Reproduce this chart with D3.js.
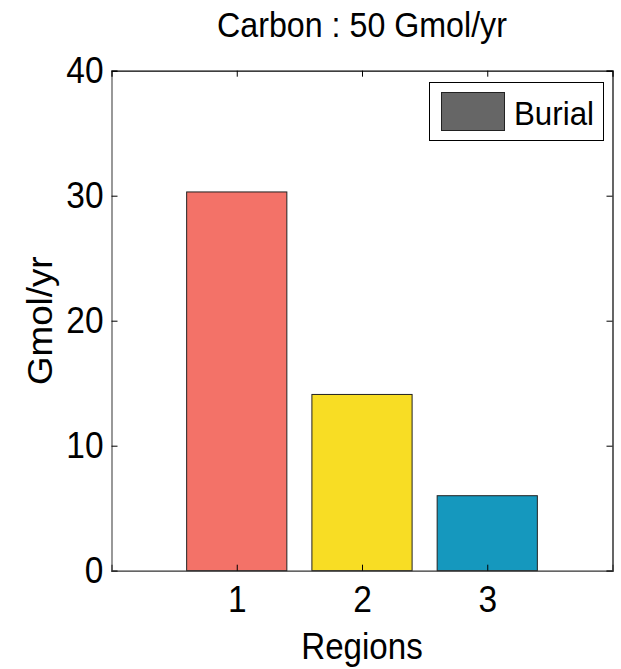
<!DOCTYPE html>
<html>
<head>
<meta charset="utf-8">
<script src="https://cdn.jsdelivr.net/npm/d3@7"></script>
<style>
  html, body { margin: 0; padding: 0; background: #fff; }
  svg { display: block; font-family: "Liberation Sans", Arial, sans-serif; }
</style>
</head>
<body>
<svg id="chart" width="621" height="669"></svg>
<script>
// Carbon burial per region
const regions = [1, 2, 3];
const burial = [30.3, 14.1, 6.0];
const barColors = ["#f37268", "#f8dd24", "#1598be"];
const yTicks = [0, 10, 20, 30, 40];
const chartTitle = "Carbon : 50 Gmol/yr";
const xLabel = "Regions";
const yLabel = "Gmol/yr";
const seriesName = "Burial";

const svg = d3.select("#chart");
const margin = { left: 111.5, top: 70.7, right: 8.5, bottom: 98.3 };
const W = 621, H = 669;
const innerW = W - margin.left - margin.right;
const innerH = H - margin.top - margin.bottom;

const x = d3.scaleLinear().domain([0, 4]).range([0, innerW]);
const y = d3.scaleLinear().domain([0, 40]).range([innerH, 0]);
const barW = 0.8;

// narrow the glyphs horizontally, keeping the anchor
function condense(sel, factor) {
  sel.each(function () {
    const w = this.getComputedTextLength();
    d3.select(this).attr("textLength", w * factor).attr("lengthAdjust", "spacingAndGlyphs");
  });
}

const g = svg.append("g").attr("transform", `translate(${margin.left},${margin.top})`);

// bars
g.selectAll("rect.bar")
  .data(regions.map((r, i) => ({ r, v: burial[i], c: barColors[i] })))
  .join("rect")
  .attr("class", "bar")
  .attr("x", d => x(d.r - barW / 2))
  .attr("width", d => x(d.r + barW / 2) - x(d.r - barW / 2))
  .attr("y", d => y(d.v))
  .attr("height", d => y(0) - y(d.v))
  .attr("fill", d => d.c)
  .attr("stroke", "#222")
  .attr("stroke-width", 1);

// axes with inward ticks on all four sides
const tickLen = 6;
const axLeft = g.append("g")
  .call(d3.axisLeft(y).tickValues(yTicks).tickFormat(d3.format("d")).tickSize(-tickLen).tickPadding(8));
const axRight = g.append("g").attr("transform", `translate(${innerW},0)`)
  .call(d3.axisRight(y).tickValues(yTicks).tickSize(-tickLen).tickFormat(""));
const axBottom = g.append("g").attr("transform", `translate(0,${innerH})`)
  .call(d3.axisBottom(x).tickValues(regions).tickFormat(d3.format("d")).tickSize(-tickLen).tickPadding(16));
const axTop = g.append("g")
  .call(d3.axisTop(x).tickValues(regions).tickSize(-tickLen).tickFormat(""));

[axLeft, axRight, axBottom, axTop].forEach(a => {
  a.select(".domain").attr("stroke", "#000").attr("stroke-width", 1.2);
  a.selectAll(".tick line").attr("stroke", "#000").attr("stroke-width", 1);
  a.selectAll(".tick text").attr("fill", "#000")
    .style("font-size", "36px")
    .style("font-family", "'Liberation Sans', Arial, sans-serif");
});
axLeft.select(".domain").attr("stroke", "#555");
axBottom.select(".domain").attr("stroke", "#333");
condense(axLeft.selectAll(".tick text"), 0.93);
condense(axBottom.selectAll(".tick text"), 0.93);

// title
svg.append("text")
  .attr("x", margin.left + innerW / 2)
  .attr("y", 37)
  .attr("text-anchor", "middle")
  .style("font-size", "35px")
  .text(chartTitle)
  .call(condense, 0.92);

// axis labels
svg.append("text")
  .attr("x", margin.left + innerW / 2)
  .attr("y", 659)
  .attr("text-anchor", "middle")
  .style("font-size", "36px")
  .text(xLabel)
  .call(condense, 0.92);

svg.append("text")
  .attr("transform", `translate(52,${margin.top + innerH / 2}) rotate(-90)`)
  .attr("text-anchor", "middle")
  .style("font-size", "35px")
  .text(yLabel)
  .call(condense, 1.05);

// legend
const lg = svg.append("g");
lg.append("rect")
  .attr("x", 429.5).attr("y", 82.5).attr("width", 174).attr("height", 58)
  .attr("fill", "#fff").attr("stroke", "#000").attr("stroke-width", 1);
lg.append("rect")
  .attr("x", 441.5).attr("y", 92.5).attr("width", 63).attr("height", 38)
  .attr("fill", "#666").attr("stroke", "#222").attr("stroke-width", 1);
lg.append("text")
  .attr("x", 514).attr("y", 125)
  .style("font-size", "34px")
  .text(seriesName)
  .call(condense, 0.92);
</script>
</body>
</html>
